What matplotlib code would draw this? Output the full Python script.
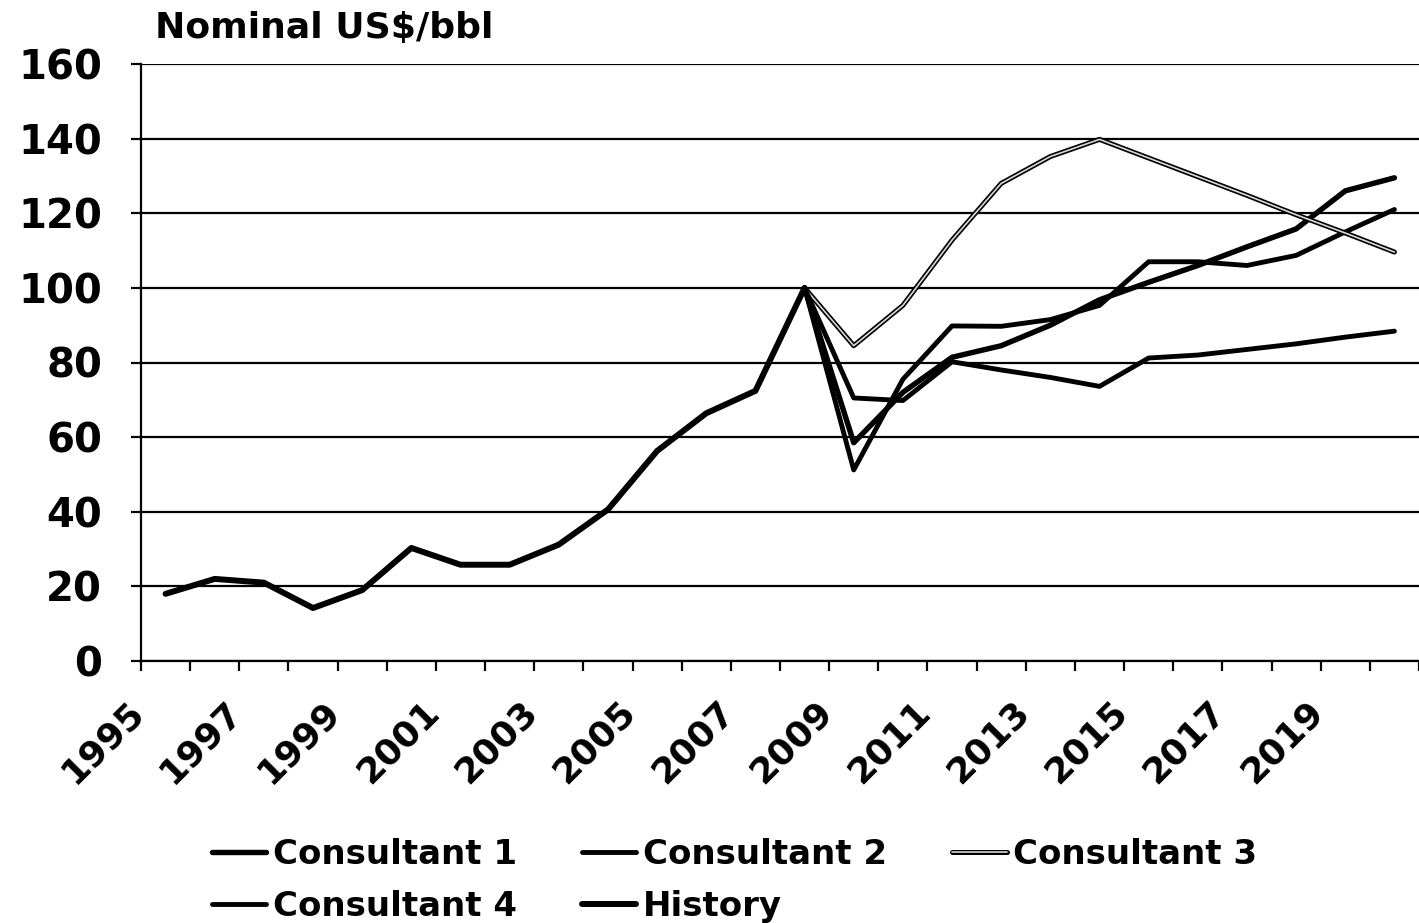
import numpy as np
import matplotlib
matplotlib.use("Agg")
import matplotlib.pyplot as plt
import matplotlib.patheffects as pe
from matplotlib.transforms import ScaledTranslation

years = list(range(1995, 2021))
hist_years = list(range(1995, 2009))
fc_years = list(range(2008, 2021))

history = [18, 22, 21, 14.2, 19, 30.3, 25.8, 25.8, 31.2, 40.6, 56.3, 66.4, 72.4, 100]
consultant_1 = [100, 58.5, 72, 81.4, 84.5, 90, 96.8, 101.5, 106, 111, 115.8, 126, 129.5]
consultant_2 = [100, 51.2, 75.5, 89.8, 89.7, 91.5, 95.3, 107, 107, 106, 108.7, 115, 121]
consultant_3 = [100, 84.5, 95.3, 112.8, 128, 135.2, 139.8, 134.8, 129.8, 124.8, 119.6, 114.7, 109.6]
consultant_4 = [100, 70.5, 69.8, 80.2, 78, 76, 73.6, 81.2, 82, 83.5, 85, 86.8, 88.4]

plt.rcParams['font.family'] = ['DejaVu Sans']
plt.rcParams['font.weight'] = 'bold'

fig = plt.figure(figsize=(14.19, 9.23), dpi=100)
ax = fig.add_axes([141 / 1419, 1 - 661 / 923, 1 - 141 / 1419, (661 - 64) / 923])

idx = {y: i for i, y in enumerate(years)}
hx = [idx[y] for y in hist_years]
fx = [idx[y] for y in fc_years]

l1, = ax.plot(fx, consultant_1, color='black', lw=3.9, solid_capstyle='round', label='Consultant 1')
l2, = ax.plot(fx, consultant_2, color='black', lw=3.5, solid_capstyle='round', label='Consultant 2')
l3, = ax.plot(fx, consultant_3, color='#d8d8d8', lw=1.2, solid_capstyle='round', label='Consultant 3',
              path_effects=[pe.Stroke(linewidth=3.6, foreground='black'), pe.Normal()])
l4, = ax.plot(fx, consultant_4, color='black', lw=3.5, solid_capstyle='round', label='Consultant 4')
lh, = ax.plot(hx, history, color='black', lw=4.3, solid_capstyle='round', label='History')

ax.set_ylim(0, 160)
ax.set_xlim(-0.5, -0.5 + (1419 - 141) / 49.56)
ax.set_yticks(range(0, 161, 20))
ax.yaxis.grid(True, color='black', lw=1.6)
ax.set_axisbelow(True)
for s in ['top', 'right']:
    ax.spines[s].set_visible(False)
for s in ['left', 'bottom']:
    ax.spines[s].set_linewidth(1.6)

ax.tick_params(axis='y', length=7, width=1.6, pad=21, labelsize=29)

# category axis: ticks between years, labels every other year
ax.set_xticks(np.arange(-0.5, 26, 1))
ax.set_xticklabels([])
ax.tick_params(axis='x', which='major', length=7, width=1.6)
offset = ScaledTranslation(-39 / 100, -33 / 100, fig.dpi_scale_trans)
for y in years[::2]:
    ax.text(idx[y], 0, str(y), transform=ax.get_xaxis_transform() + offset,
            rotation=45, ha='right', va='top', rotation_mode='anchor',
            fontsize=26, fontweight='bold')

fig.text(155 / 1419, 1 - 28 / 923, 'Nominal US$/bbl', fontsize=26, fontweight='bold',
         ha='left', va='center')

handles = [l1, l4, l2, lh, l3]
fig.legend(handles, [h.get_label() for h in handles], ncol=3, frameon=False,
           loc='upper left', bbox_to_anchor=(212 / 1419, 1 - 838 / 923),
           fontsize=24.5, handlelength=1.6, handletextpad=0.2, columnspacing=1.9,
           labelspacing=0.55, borderpad=0, borderaxespad=0)

fig.savefig('out.png', dpi=100)
